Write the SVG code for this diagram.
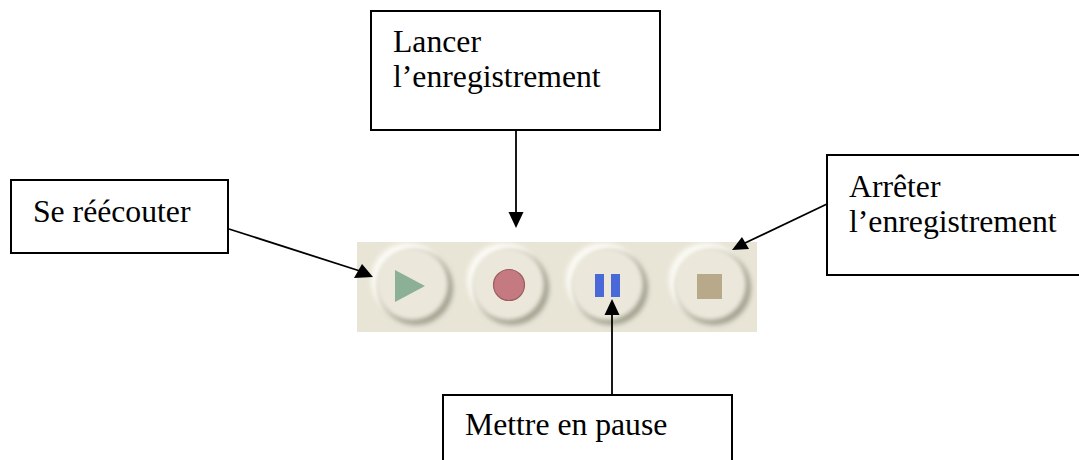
<svg xmlns="http://www.w3.org/2000/svg" width="1079" height="460" viewBox="0 0 1079 460">
<style>
.box{fill:#fff;stroke:#000;stroke-width:2}
.t{font-family:"Liberation Serif","Times New Roman",serif;font-size:31.7px;fill:#000}
.c{fill:none;stroke:#000;stroke-width:1.8}
.h{fill:#000;stroke:none}
.s{fill:#a3a190;filter:url(#b)}
.l{fill:#fcfbf6;filter:url(#b)}
.f{fill:#ebe8db;filter:url(#b1)}
</style>
<defs>
<filter id="b" x="-30%" y="-30%" width="160%" height="160%"><feGaussianBlur stdDeviation="2.5"/></filter>
<filter id="b1" x="-30%" y="-30%" width="160%" height="160%"><feGaussianBlur stdDeviation="2"/></filter>
<filter id="g" x="-30%" y="-30%" width="160%" height="160%"><feGaussianBlur stdDeviation="0.7"/></filter>
<g id="btn">
<circle class="l" cx="-4" cy="-4" r="37"/>
<circle class="s" cx="4" cy="4" r="37"/>
<circle class="f" r="36"/>
</g>
<clipPath id="tb"><rect x="357" y="242" width="400" height="90"/></clipPath>
</defs>
<g id="toolbar">
<rect x="357" y="242" width="400" height="90" fill="#e8e5d6"/>
<g clip-path="url(#tb)">
<g id="play"><use href="#btn" x="412" y="284"/><polygon points="395,270 425,286 395,302" fill="#8cb095" filter="url(#g)"/></g>
<g id="record"><use href="#btn" x="508" y="284"/><circle cx="509" cy="285" r="15.500" fill="#c47a80" stroke="#9b5f61" stroke-width="1.2" filter="url(#g)"/></g>
<g id="pause"><use href="#btn" x="607" y="284"/><rect x="595" y="274" width="9" height="23" fill="#4a69d8" filter="url(#g)"/><rect x="611" y="274" width="9" height="23" fill="#4a69d8" filter="url(#g)"/></g>
<g id="stop"><use href="#btn" x="710" y="284"/><rect x="697" y="274" width="25" height="25" fill="#b8a98a" filter="url(#g)"/></g>
</g>
</g>
<g id="connectors">
<line class="c" x1="516" y1="130" x2="516" y2="213"/>
<polygon class="h" points="508.500,212 523.500,212 516,228"/>
<line class="c" x1="229" y1="229" x2="360" y2="271"/>
<polygon class="h" points="362,264 354,278 373,277"/>
<line class="c" x1="827" y1="204" x2="745" y2="243"/>
<polygon class="h" points="742,237 749,249 732,250"/>
<line class="c" x1="612" y1="395" x2="612" y2="314"/>
<polygon class="h" points="604.500,315 619.500,315 612,299"/>
</g>
<g id="node-lancer"><rect class="box" x="371" y="11" width="289" height="119"/><text class="t" x="393" y="52">Lancer</text><text class="t" x="393" y="87">l’enregistrement</text></g>
<g id="node-reecouter"><rect class="box" x="11" y="180" width="217" height="73"/><text class="t" x="33" y="222">Se réécouter</text></g>
<g id="node-arreter"><rect class="box" x="827" y="155" width="262" height="120"/><text class="t" x="849" y="197">Arrêter</text><text class="t" x="849" y="232">l’enregistrement</text></g>
<g id="node-pause"><rect class="box" x="443" y="395" width="289" height="80"/><text class="t" x="465" y="435">Mettre en pause</text></g>
</svg>
